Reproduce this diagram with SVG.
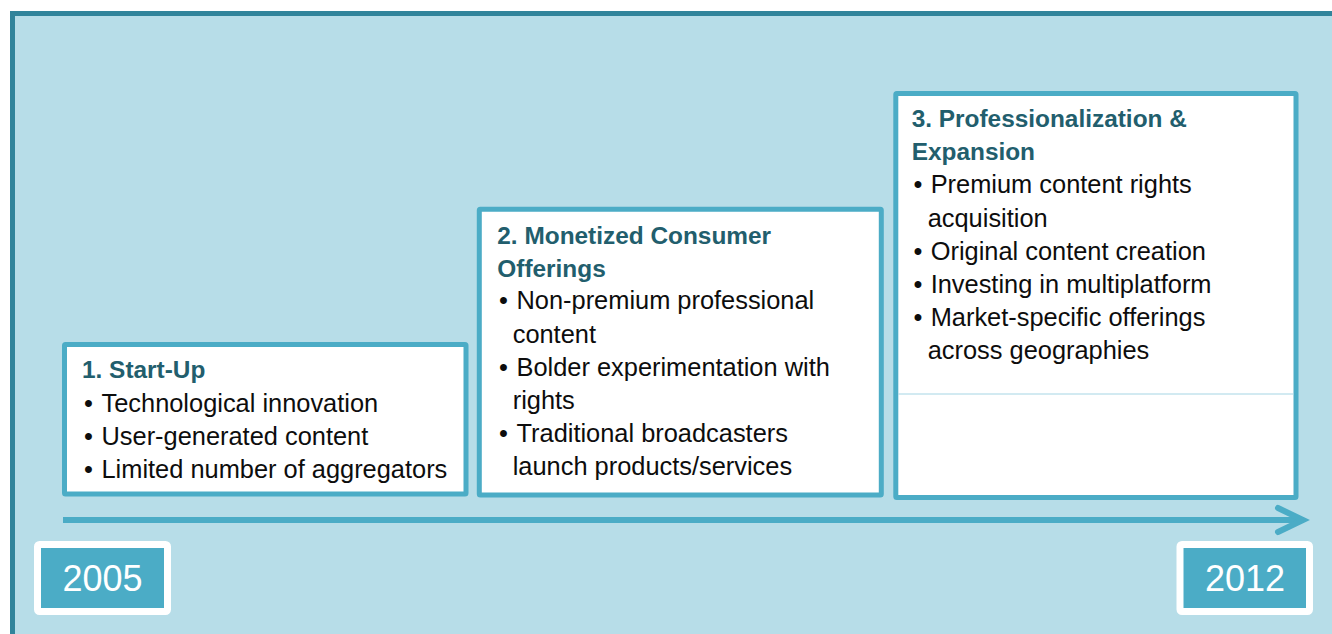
<svg xmlns="http://www.w3.org/2000/svg" width="1332" height="634" viewBox="0 0 1332 634">
  <style>
    .stage { fill: #ffffff; stroke: #4BACC6; stroke-width: 5; }
    .title { font-family: "Liberation Sans", Arial, sans-serif; font-size: 24.4px; font-weight: bold; fill: #225E6D; }
    .item { font-family: "Liberation Sans", Arial, sans-serif; font-size: 25.4px; fill: #0d0d0d; }
    .year-box { fill: #4BACC6; stroke: #ffffff; stroke-width: 7; }
    .year { font-family: "Liberation Sans", Arial, sans-serif; font-size: 36px; fill: #ffffff; text-anchor: middle; }
  </style>
  <defs>
    <marker id="chevron" markerUnits="userSpaceOnUse" markerWidth="40" markerHeight="40" refX="30" refY="20" orient="auto">
      <polyline points="5,8 30,20 5,32" fill="none" stroke="#4BACC6" stroke-width="6" stroke-linecap="round" stroke-linejoin="miter"/>
    </marker>
  </defs>

  <!-- page background and framed panel -->
  <rect x="0" y="0" width="1332" height="634" fill="#ffffff"/>
  <rect id="panel" x="12.5" y="13.5" width="1340" height="640" fill="#B7DDE8" stroke="#31849B" stroke-width="5"/>

  <!-- timeline axis -->
  <g id="connectors">
    <line x1="63" y1="520" x2="1303" y2="520" stroke="#4BACC6" stroke-width="6" marker-end="url(#chevron)"/>
  </g>

  <!-- stage 1 -->
  <g id="stage-1">
    <rect class="stage" x="64.5" y="344.5" width="401.5" height="149.5" rx="1"/>
    <text class="title" x="82" y="378">1. Start-Up</text>
    <text class="item" x="84" y="411.7">•</text>
    <text class="item" x="101.5" y="411.7">Technological innovation</text>
    <text class="item" x="84" y="445">•</text>
    <text class="item" x="101.5" y="445">User-generated content</text>
    <text class="item" x="84" y="478.3">•</text>
    <text class="item" x="101.5" y="478.3">Limited number of aggregators</text>
  </g>

  <!-- stage 2 -->
  <g id="stage-2">
    <rect class="stage" x="479.3" y="209.3" width="402" height="285.7" rx="1"/>
    <text class="title" x="497.3" y="244">2. Monetized Consumer</text>
    <text class="title" x="497.3" y="276.5">Offerings</text>
    <text class="item" x="499" y="309.3">•</text>
    <text class="item" x="516.5" y="309.3">Non-premium professional</text>
    <text class="item" x="512.7" y="342.7">content</text>
    <text class="item" x="499" y="376">•</text>
    <text class="item" x="516.5" y="376">Bolder experimentation with</text>
    <text class="item" x="512.7" y="409.3">rights</text>
    <text class="item" x="499" y="442">•</text>
    <text class="item" x="516.5" y="442">Traditional broadcasters</text>
    <text class="item" x="512.7" y="475">launch products/services</text>
  </g>

  <!-- stage 3 -->
  <g id="stage-3">
    <rect class="stage" x="895.8" y="93.5" width="400.2" height="404" rx="1"/>
    <line x1="898.3" y1="394" x2="1293.5" y2="394" stroke="#A5D5E4" stroke-width="1"/>
    <text class="title" x="911.7" y="126.7">3. Professionalization &amp;</text>
    <text class="title" x="911.7" y="160">Expansion</text>
    <text class="item" x="913.5" y="193.3">•</text>
    <text class="item" x="930.7" y="193.3">Premium content rights</text>
    <text class="item" x="927.7" y="226.7">acquisition</text>
    <text class="item" x="913.5" y="260">•</text>
    <text class="item" x="930.7" y="260">Original content creation</text>
    <text class="item" x="913.5" y="292.7">•</text>
    <text class="item" x="930.7" y="292.7">Investing in multiplatform</text>
    <text class="item" x="913.5" y="326">•</text>
    <text class="item" x="930.7" y="326">Market-specific offerings</text>
    <text class="item" x="927.7" y="358.7">across geographies</text>
  </g>

  <!-- year markers -->
  <g id="year-2005">
    <rect class="year-box" x="37.5" y="544.5" width="130" height="67" rx="2"/>
    <text class="year" x="102.5" y="591">2005</text>
  </g>
  <g id="year-2012">
    <rect class="year-box" x="1180" y="544.5" width="129.5" height="67" rx="2"/>
    <text class="year" x="1245" y="591">2012</text>
  </g>
</svg>
